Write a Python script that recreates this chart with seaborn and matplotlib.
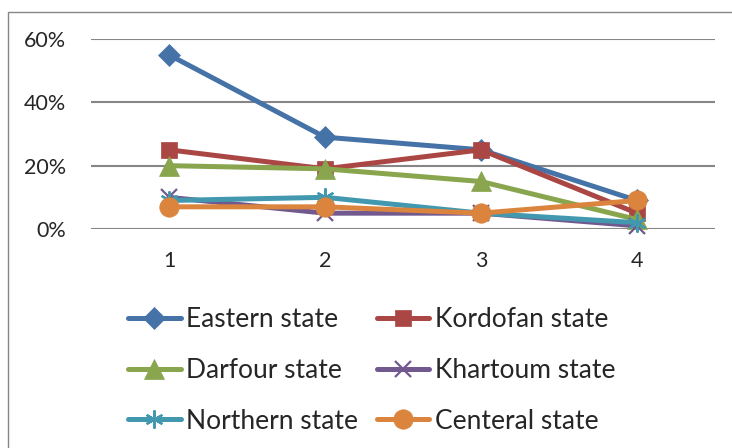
import matplotlib
matplotlib.use('Agg')
import matplotlib.pyplot as plt
from matplotlib.patches import Rectangle
import pandas as pd
import seaborn as sns

# values (percent)
categories = [1, 2, 3, 4]
eastern = [55, 29, 25, 9]
kordofan = [25, 19, 25, 5]
darfour = [20, 19, 15, 3]
khartoum = [10, 5, 5, 1]
northern = [9, 10, 5, 2]
central = [7, 7, 5, 9]

series_names = ['Eastern state', 'Kordofan state', 'Darfour state',
                'Khartoum state', 'Northern state', 'Centeral state']
y_ticks = [0, 20, 40, 60]
y_tick_labels = ['0%', '20%', '40%', '60%']

colors = ['#4572A7', '#AA4643', '#89A54E', '#71588F', '#4198AF', '#DB843D']
markers = ['D', 's', '^', 'x', (6, 2, 0), 'o']
msizes = [11, 12, 14, 12, 13, 14]

sns.set_style('white')
plt.rcParams['font.family'] = ['Lato', 'DejaVu Sans']

rows = []
for name, vals in zip(series_names, [eastern, kordofan, darfour, khartoum, northern, central]):
    for c, v in zip(categories, vals):
        rows.append({'state': name, 'x': c, 'value': v})
df = pd.DataFrame(rows)

fig = plt.figure(figsize=(7.32, 4.48), dpi=100)
ax = fig.add_axes([91 / 732, 1 - 229 / 448, 624 / 732, 190 / 448])

for name, col, mk, ms in zip(series_names, colors, markers, msizes):
    sub = df[df['state'] == name]
    thin = mk in ('x', (6, 2, 0))
    sns.lineplot(data=sub, x='x', y='value', ax=ax, color=col, linewidth=3.6,
                 marker=mk, markersize=ms, markeredgecolor=col,
                 markeredgewidth=1.6 if thin else 0.5,
                 label=name, clip_on=False)

ax.set_xlim(0.5, 4.5)
ax.set_ylim(0, 60)
ax.set_xticks(categories)
ax.set_xticklabels([str(c) for c in categories], fontsize=15.5)
ax.set_yticks(y_ticks)
ax.set_yticklabels(y_tick_labels, fontsize=15.5)
ax.tick_params(axis='x', length=0, pad=16)
ax.tick_params(axis='y', length=0, pad=18)
ax.set_xlabel('')
ax.set_ylabel('')
for s in ax.spines.values():
    s.set_visible(False)
ax.yaxis.grid(True, color='#868686', linewidth=1.5)
ax.set_axisbelow(True)

handles, labels = ax.get_legend_handles_labels()
ax.get_legend().remove()
# legend is filled row by row in the reference
order = [0, 2, 4, 1, 3, 5]
fig.legend([handles[i] for i in order], [labels[i] for i in order],
           ncol=2, loc='upper left',
           bbox_to_anchor=(128 / 732, 1 - 307 / 448),
           frameon=False, fontsize=19, handlelength=2.0, handletextpad=0.2,
           columnspacing=0.7, labelspacing=0.98, borderaxespad=0, borderpad=0)

# chart area border
fig.patches.append(Rectangle((8 / 732, -0.2), 2, 1.2 - 12 / 448,
                             transform=fig.transFigure, fill=False,
                             edgecolor='#868686', linewidth=1))

fig.savefig('out.png', dpi=100)
